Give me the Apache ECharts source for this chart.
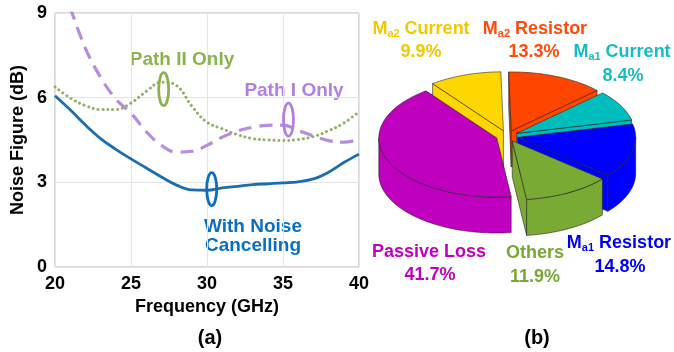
<!DOCTYPE html>
<html>
<head>
<meta charset="utf-8">
<script src="https://cdn.jsdelivr.net/npm/echarts@6/dist/echarts.min.js"></script>
<style>
  html, body { margin: 0; padding: 0; background: #fff; }
  #chart { width: 674px; height: 352px; }
</style>
</head>
<body>
<div id="chart"></div>
<script>
// ---- (a) noise figure versus frequency ----
const freqGHz = [20, 21, 22, 23, 24, 25, 26, 27, 28, 29, 30, 31, 32, 33, 34, 35, 36, 37, 38, 39, 40];
const nfWithCancelling = [6.07, 5.57, 5.03, 4.55, 4.17, 3.83, 3.51, 3.19, 2.90, 2.73, 2.72, 2.80, 2.86, 2.92, 2.95, 2.98, 3.02, 3.12, 3.36, 3.70, 4.00];
const nfPathIOnly = [null, 9.20, 7.75, 6.72, 5.95, 5.45, 4.80, 4.31, 4.07, 4.10, 4.31, 4.60, 4.82, 4.95, 5.02, 5.03, 4.84, 4.64, 4.48, 4.42, 4.52];
const nfPathIIOnly = [6.38, 5.99, 5.72, 5.58, 5.58, 5.81, 6.22, 6.55, 6.43, 5.70, 5.13, 4.90, 4.69, 4.55, 4.50, 4.48, 4.52, 4.62, 4.83, 5.10, 5.50];
// curve call-out rings [GHz, dB]
const ringPathII = [27.15, 6.30];
const ringPathI = [35.36, 5.22];
const ringCancelling = [30.31, 2.76];

// ---- (b) noise contribution breakdown ----
const sliceNames = ['Passive Loss', 'Ma2 Current', 'Ma2 Resistor', 'Ma1 Current', 'Ma1 Resistor', 'Others'];
const sliceShares = [41.7, 9.9, 13.3, 8.4, 14.8, 11.9];

const sliceColors = ['#bf00bf', '#ffd700', '#ff4500', '#00bdbd', '#0000ff', '#79aa33'];
const labelColors = ['#bf00bf', '#f2c800', '#ff4a0a', '#14bcc4', '#0000f0', '#77a836'];
// label anchors: [x, y of name line, x, y of percent line]
const labelSpots = [
  [429, 252, 430, 275],
  [421, 29, 421, 52],
  [535, 29, 534, 52],
  [622, 52, 623, 76],
  [619, 243, 620, 267],
  [535, 253, 535, 277]
];

const FONT = '"Liberation Sans", Arial, Helvetica, sans-serif';

// 3-D pie geometry
const pie = { cx: 507, cy: 136, rx: 118, ry: 59, depth: 36, explode: 11, startDeg: 83 };

const total = sliceShares.reduce((s, v) => s + v, 0);
const sliceSpans = [];
{
  let acc = 0;
  sliceShares.forEach(v => {
    const a = pie.startDeg + acc / total * 360;
    acc += v;
    const b = pie.startDeg + acc / total * 360;
    sliceSpans.push([a, b]);
  });
}
// back-to-front painting order
const depthRank = sliceSpans
  .map((s, i) => ({ i, d: Math.sin(((s[0] + s[1]) / 2) * Math.PI / 180) }))
  .sort((p, q) => p.d - q.d)
  .reduce((acc, p, r) => { acc[p.i] = r; return acc; }, {});

function renderSlice(params, api) {
  const i = params.dataIndex;
  const share = api.value(0);
  const a = sliceSpans[i][0];
  const b = a + share / total * 360;
  const rad = Math.PI / 180;
  const k = pie.ry / pie.rx;
  const mid = (a + b) / 2 * rad;
  const ox = pie.explode * Math.cos(mid);
  const oy = pie.explode * Math.sin(mid) * k;
  const pt = (deg, r, dz) => [
    pie.cx + ox + r * Math.cos(deg * rad),
    pie.cy + oy + r * Math.sin(deg * rad) * k + dz
  ];
  const arc = (from, to, dz) => {
    const pts = [];
    const n = Math.max(2, Math.ceil(Math.abs(to - from) / 2));
    for (let j = 0; j <= n; j++) pts.push(pt(from + (to - from) * j / n, pie.rx, dz));
    return pts;
  };
  const style = {
    fill: sliceColors[i],
    stroke: 'rgba(30,30,30,0.8)',
    lineWidth: 0.7,
    lineJoin: 'round'
  };
  const base = depthRank[i] * 10;
  const children = [];

  // cut faces facing the viewer
  const cutFace = (deg) => ({
    type: 'polygon', z2: base + 1,
    shape: { points: [pt(deg, 0, 0), pt(deg, pie.rx, 0), pt(deg, pie.rx, pie.depth), pt(deg, 0, pie.depth)] },
    style
  });
  if (Math.cos(a * rad) < 0) children.push(cutFace(a));
  if (Math.cos(b * rad) > 0) children.push(cutFace(b));

  // outer rim on the front half
  for (let turn = 0; turn <= 1; turn++) {
    const s = Math.max(a, turn * 360), e = Math.min(b, turn * 360 + 180);
    if (e > s) {
      const top = arc(s, e, 0);
      const bottom = arc(e, s, pie.depth);
      children.push({ type: 'polygon', z2: base + 2, shape: { points: top.concat(bottom) }, style });
    }
  }

  // top face
  children.push({
    type: 'polygon', z2: base + 3,
    shape: { points: [pt(a, 0, 0)].concat(arc(a, b, 0)) },
    style
  });
  return { type: 'group', children };
}

function richName(name) {
  const m = name.match(/^M(a\d)(.*)$/);
  if (m) return '{n|M}{s|' + m[1] + '}{n|' + m[2] + '}';
  return '{n|' + name + '}';
}

const labelGraphics = [];
sliceNames.forEach((name, i) => {
  const spot = labelSpots[i];
  const c = labelColors[i];
  labelGraphics.push({
    type: 'text', x: spot[0], y: spot[1],
    style: {
      text: richName(name), align: 'center', verticalAlign: 'middle',
      rich: {
        n: { fill: c, fontSize: 18, fontWeight: 'bold', fontFamily: FONT, lineHeight: 20 },
        s: { fill: c, fontSize: 11, fontWeight: 'bold', fontFamily: FONT, verticalAlign: 'bottom' }
      }
    }
  });
  labelGraphics.push({
    type: 'text', x: spot[2], y: spot[3],
    style: {
      text: sliceShares[i].toFixed(1) + '%', align: 'center', verticalAlign: 'middle',
      fill: c, fontSize: 18, fontWeight: 'bold', fontFamily: FONT
    }
  });
});

const calloutText = (text, x, y, color) => ({
  type: 'text', x, y,
  style: { text, align: 'center', verticalAlign: 'middle', fill: color, fontSize: 19, fontWeight: 'bold', fontFamily: FONT }
});

// open ellipse drawn at a data position of the line plot
const ring = (name, pos, color) => ({
  name, type: 'custom', coordinateSystem: 'cartesian2d', data: [pos], silent: true, z: 5,
  renderItem: (params, api) => {
    const c = api.coord([api.value(0), api.value(1)]);
    return {
      type: 'ellipse',
      shape: { cx: c[0], cy: c[1], rx: 5, ry: 16.5 },
      style: { fill: 'none', stroke: color, lineWidth: 2.8 }
    };
  }
});

const pairs = (ys) => freqGHz.map((f, i) => [f, ys[i] == null ? '-' : ys[i]]);

const chart = echarts.init(document.getElementById('chart'), null, { renderer: 'canvas' });
chart.setOption({
  animation: false,
  backgroundColor: '#fff',
  grid: { left: 55, right: 315, top: 13, bottom: 85, show: true, borderColor: '#b4b4b4', borderWidth: 1 },
  xAxis: {
    type: 'value', min: 20, max: 40, interval: 5,
    name: 'Frequency (GHz)', nameLocation: 'middle', nameGap: 24,
    nameTextStyle: { color: '#000', fontSize: 18, fontWeight: 'bold', fontFamily: FONT },
    axisLine: { show: false }, axisTick: { show: false },
    axisLabel: { color: '#000', fontSize: 18, fontWeight: 'bold', fontFamily: FONT, margin: 8 },
    splitLine: { show: true, lineStyle: { color: '#e4e4e4', width: 1 } }
  },
  yAxis: {
    type: 'value', min: 0, max: 9, interval: 3,
    name: 'Noise Figure (dB)', nameLocation: 'middle', nameGap: 28, nameRotate: 90,
    nameTextStyle: { color: '#000', fontSize: 18, fontWeight: 'bold', fontFamily: FONT },
    axisLine: { show: false }, axisTick: { show: false },
    axisLabel: { color: '#000', fontSize: 18, fontWeight: 'bold', fontFamily: FONT, margin: 8 },
    splitLine: { show: true, lineStyle: { color: '#e4e4e4', width: 1 } }
  },
  graphic: [
    calloutText('Path II Only', 182, 60, '#8cb24f'),
    calloutText('Path I Only', 294, 91, '#b27fe0'),
    calloutText('With Noise', 253, 227, '#0a6fc2'),
    calloutText('Cancelling', 253, 246, '#0a6fc2'),
    { type: 'text', x: 210, y: 338, style: { text: '(a)', align: 'center', verticalAlign: 'middle', fill: '#000', fontSize: 20, fontWeight: 'bold', fontFamily: FONT } },
    { type: 'text', x: 537, y: 338, style: { text: '(b)', align: 'center', verticalAlign: 'middle', fill: '#000', fontSize: 20, fontWeight: 'bold', fontFamily: FONT } }
  ].concat(labelGraphics),
  series: [
    {
      name: 'Path II Only', type: 'line', data: pairs(nfPathIIOnly), smooth: 0.4, symbol: 'none',
      lineStyle: { color: '#92b267', width: 3, type: [0.1, 4.8], cap: 'round' }, z: 3
    },
    {
      name: 'Path I Only', type: 'line', data: pairs(nfPathIOnly), smooth: 0.4, symbol: 'none', connectNulls: false,
      lineStyle: { color: '#b48ce0', width: 3.2, type: [13, 8] }, z: 3
    },
    {
      name: 'With Noise Cancelling', type: 'line', data: pairs(nfWithCancelling), smooth: 0.4, symbol: 'none',
      lineStyle: { color: '#1a6eb0', width: 2.8 }, z: 4
    },
    ring('Path II ring', ringPathII, '#8cb24f'),
    ring('Path I ring', ringPathI, '#b27fe0'),
    ring('Cancelling ring', ringCancelling, '#0a6fc2'),
    {
      name: 'Noise breakdown', type: 'custom', coordinateSystem: 'none',
      data: sliceShares.map(v => [v]), renderItem: renderSlice, silent: true, z: 6
    }
  ]
});
</script>
</body>
</html>
